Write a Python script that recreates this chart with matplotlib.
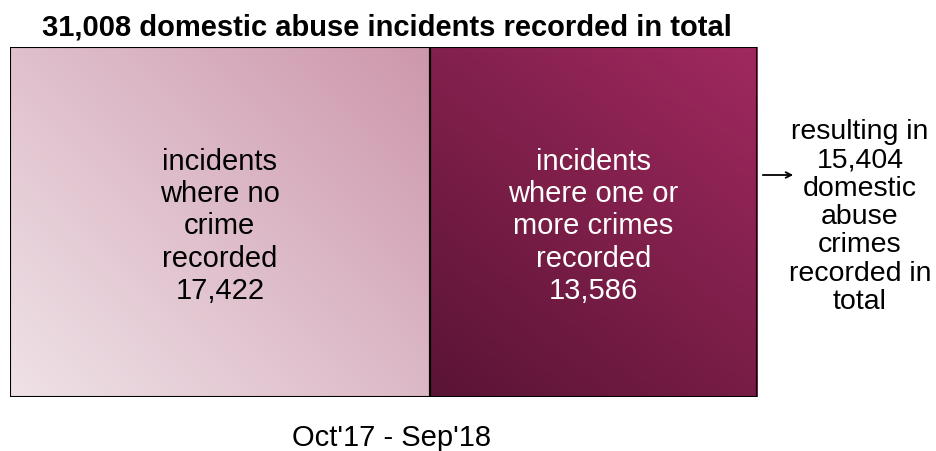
import numpy as np
import matplotlib.pyplot as plt
from matplotlib.colors import LinearSegmentedColormap
from matplotlib.patches import Rectangle

plt.rcParams["font.family"] = ["Liberation Sans", "DejaVu Sans"]

# data
categories = ["incidents\nwhere no\ncrime\nrecorded", "incidents\nwhere one or\nmore crimes\nrecorded"]
values = [17422, 13586]
total_incidents = 31008
total_crimes = 15404
period = "Oct'17 - Sep'18"

# gradient colours (bottom-left -> top-right) and direction weights (x, y)
grad_colors = [("#efe2e7", "#cd97ac"), ("#5a1433", "#a0295f")]
grad_weights = [(0.55, 0.45), (0.42, 0.58)]
text_colors = ["black", "white"]

fig = plt.figure(figsize=(9.36, 4.52), dpi=100)
ax = fig.add_axes([10 / 936, 54 / 452, 747 / 936, 350 / 452])
ax.set_xlim(0, total_incidents)
ax.set_ylim(0, 1)
ax.axis("off")

left = 0
for val, label, (c0, c1), (wx, wy), tc in zip(values, categories, grad_colors,
                                              grad_weights, text_colors):
    cmap = LinearSegmentedColormap.from_list("g", [c0, c1])
    xx, yy = np.meshgrid(np.linspace(0, 1, 200), np.linspace(0, 1, 200))
    grad = wx * xx + wy * yy
    rect = Rectangle((left, 0), val, 1, facecolor="none", edgecolor="black", lw=1.5, zorder=3)
    ax.add_patch(rect)
    im = ax.imshow(grad, cmap=cmap, extent=(left, left + val, 0, 1), origin="lower",
                   aspect="auto", interpolation="bilinear", zorder=1)
    im.set_clip_path(rect)
    ax.text(left + val / 2, 0.49, f"{label}\n{val:,}", ha="center", va="center",
            fontsize=21, color=tc, linespacing=1.2, zorder=4)
    left += val

fig.text(387 / 936, 1 - 28 / 452, f"{total_incidents:,} domestic abuse incidents recorded in total",
         ha="center", va="center", fontsize=21, fontweight="bold")

ax.annotate("", xy=(796 / 936, 1 - 176 / 452), xytext=(760 / 936, 1 - 176 / 452),
            xycoords="figure fraction", textcoords="figure fraction",
            arrowprops=dict(arrowstyle="->", color="black", lw=1.3), annotation_clip=False)
fig.text(860 / 936, 1 - 217 / 452,
         f"resulting in\n{total_crimes:,}\ndomestic\nabuse\ncrimes\nrecorded in\ntotal",
         ha="center", va="center", fontsize=20.5, linespacing=1.12)

fig.text(392 / 936, 1 - 438 / 452, period, ha="center", va="center", fontsize=21)

fig.savefig("out.png", dpi=100)
